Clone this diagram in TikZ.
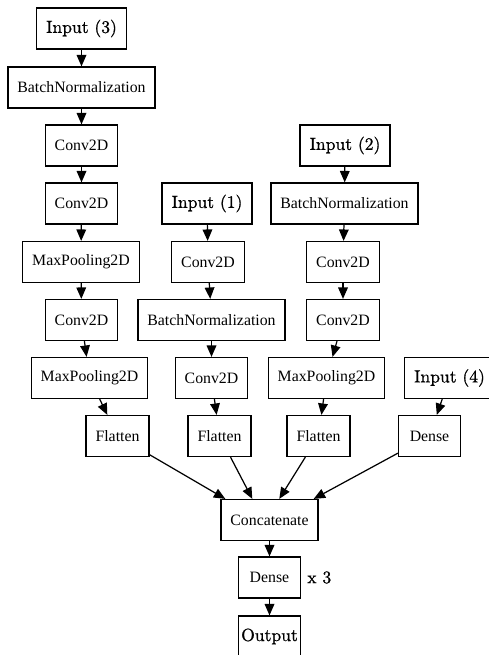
\documentclass[tikz,border=0pt]{standalone}
\usepackage{fontspec}
\newfontfamily\layerfont{Liberation Serif}
\newfontfamily\iofont{lmroman10-regular.otf}[FakeBold=0.8]
\usetikzlibrary{arrows.meta}

\begin{document}
\begin{tikzpicture}[x=0.02cm, y=-0.02cm, >={Triangle[length=6.5pt,width=5.5pt]},
  box/.style={draw, line width=0.7pt, minimum height=0.82cm, minimum width=1.24cm, inner xsep=0.19cm, inner ysep=0pt},
  layer/.style={box, font=\layerfont\fontsize{9}{11}\selectfont},
  io/.style={box, font=\iofont\fontsize{10}{12}\selectfont},
  edge/.style={->, line width=0.7pt}]
\useasboundingbox (0,0) rectangle (488,655);
% column of input 3
\node [io] (in3) at (81.5,28.5) {Input (3)};
\node [layer] (bn3) at (81.5,87.5) {BatchNormalization};
\node [layer] (ca3) at (81.5,145.5) {Conv2D};
\node [layer] (cb3) at (81.5,203.5) {Conv2D};
\node [layer] (pa3) at (81,262) {MaxPooling2D};
\node [layer] (cc3) at (81.5,320) {Conv2D};
\node [layer] (pb3) at (89.5,378) {MaxPooling2D};
\node [layer] (fl3) at (117.5,436) {Flatten};
% column of input 1
\node [io] (in1) at (207,203.5) {Input (1)};
\node [layer] (ca1) at (208,262) {Conv2D};
\node [layer] (bn1) at (211.5,320) {BatchNormalization};
\node [layer] (cb1) at (211.5,378) {Conv2D};
\node [layer] (fl1) at (219.5,436) {Flatten};
% column of input 2
\node [io] (in2) at (345,145.5) {Input (2)};
\node [layer] (bn2) at (344.5,203.5) {BatchNormalization};
\node [layer] (ca2) at (343,262) {Conv2D};
\node [layer] (cb2) at (343,320) {Conv2D};
\node [layer] (pa2) at (326.5,378) {MaxPooling2D};
\node [layer] (fl2) at (318.5,436) {Flatten};
% column of input 4
\node [io] (in4) at (449.5,378) {Input (4)};
\node [layer] (dn4) at (429.5,436) {Dense};
% head
\node [layer] (cat) at (269.5,520) {Concatenate};
\node [layer] (dns) at (269.5,577.5) {Dense};
\node [anchor=west, font=\iofont\fontsize{10}{12}\selectfont] (rep) at (dns.east) {x 3};
\node [io, inner xsep=0.04cm] (out) at (269.5,636.5) {Output};

\draw [edge] (in3) -- (bn3);
\draw [edge] (bn3) -- (ca3);
\draw [edge] (ca3) -- (cb3);
\draw [edge] (cb3) -- (pa3);
\draw [edge] (pa3) -- (cc3);
\draw [edge] (cc3) -- (pb3);
\draw [edge] (pb3) -- (fl3);
\draw [edge] (in1) -- (ca1);
\draw [edge] (ca1) -- (bn1);
\draw [edge] (bn1) -- (cb1);
\draw [edge] (cb1) -- (fl1);
\draw [edge] (in2) -- (bn2);
\draw [edge] (bn2) -- (ca2);
\draw [edge] (ca2) -- (cb2);
\draw [edge] (cb2) -- (pa2);
\draw [edge] (pa2) -- (fl2);
\draw [edge] (in4) -- (dn4);
\draw [edge] (fl3) -- ([xshift=0.1cm]cat.north west);
\draw [edge] (fl1) -- ([xshift=0.64cm]cat.north west);
\draw [edge] (fl2) -- ([xshift=1.18cm]cat.north west);
\draw [edge] (dn4) -- ([xshift=-0.1cm]cat.north east);
\draw [edge] (cat) -- (dns);
\draw [edge] (dns) -- (out);
\end{tikzpicture}
\end{document}
